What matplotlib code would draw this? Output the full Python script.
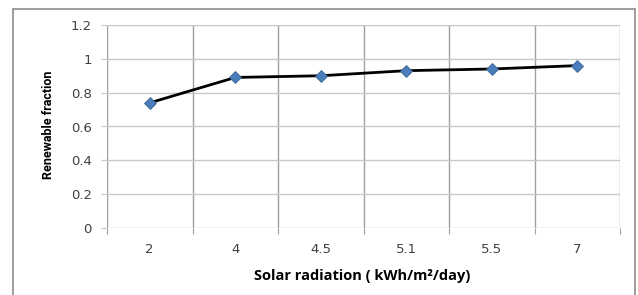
import matplotlib as mp
mp.use('agg')
import matplotlib.pyplot as plt
from matplotlib.patches import Rectangle

# solar radiation categories and renewable fraction
radiation = ['2', '4', '4.5', '5.1', '5.5', '7']
fraction = [0.74, 0.89, 0.90, 0.93, 0.94, 0.96]
yticks = [0, 0.2, 0.4, 0.6, 0.8, 1, 1.2]
ytick_labels = ['0', '0.2', '0.4', '0.6', '0.8', '1', '1.2']

W, H = 638, 295


def main():
    plt.rcParams['font.family'] = ['DejaVu Sans']
    fig = plt.figure(figsize=(W / 100, H / 100), dpi=100)

    # outer chart border, bottom edge is cropped off in the original
    fig.patches.append(Rectangle((13 / W, -0.05), 622 / W, 1 - 9 / H + 0.05,
                                 transform=fig.transFigure, fill=False,
                                 edgecolor='#8c8c8c', linewidth=1.2))

    ax = fig.add_axes([107 / W, 1 - 228 / H, 513 / W, 203 / H])
    x = list(range(len(radiation)))
    ax.plot(x, fraction, color='black', linewidth=2, marker='D',
            markersize=6.5, markerfacecolor='#4a7ebb',
            markeredgecolor='#3a6596', markeredgewidth=0.6, zorder=3)

    ax.set_xlim(-0.5, len(radiation) - 0.5)
    ax.set_ylim(0, 1.2)

    # category gridlines sit between the points
    bounds = [i - 0.5 for i in range(len(radiation) + 1)]
    for b in bounds:
        ax.axvline(b, color='#a0a0a0', linewidth=1, zorder=1)
    for t in yticks:
        ax.axhline(t, color='#c8c8c8', linewidth=1, zorder=1)

    ax.set_xticks(bounds)
    ax.set_xticklabels([])
    ax.set_xticks(x, minor=True)
    ax.set_xticklabels(radiation, minor=True)
    ax.tick_params(axis='x', which='major', length=4, color='#a0a0a0')
    ax.tick_params(axis='x', which='minor', length=0, pad=11,
                   labelsize=9.5, labelcolor='#404040')
    ax.set_yticks(yticks)
    ax.set_yticklabels(ytick_labels)
    ax.tick_params(axis='y', length=4, color='#c8c8c8', pad=7,
                   labelsize=9.5, labelcolor='#404040')

    for s in ax.spines.values():
        s.set_visible(False)

    fig.text(362 / W, 1 - 276 / H, 'Solar radiation ( kWh/m\u00b2/day)',
             ha='center', va='center', fontsize=10.5, fontweight='bold',
             family=['Open Sans', 'DejaVu Sans'])
    fig.text(48 / W, 1 - 125 / H, 'Renewable fraction', rotation=90,
             ha='center', va='center', fontsize=9, fontweight='bold',
             family=['Roboto', 'DejaVu Sans'])

    fig.savefig('out.png', dpi=100)


if __name__ == '__main__':
    main()
